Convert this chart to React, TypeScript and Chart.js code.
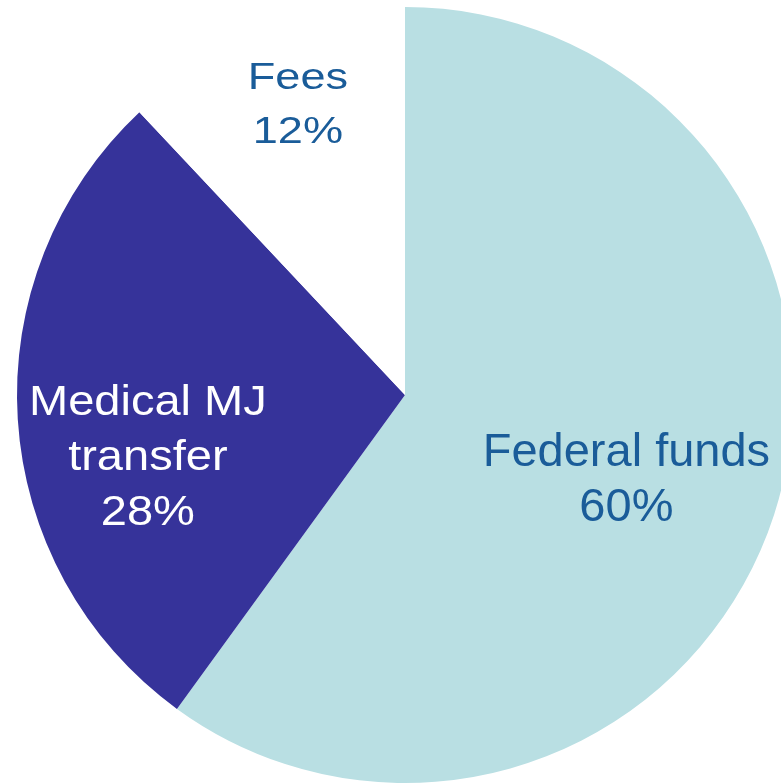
import React, { useEffect, useRef } from "react";
import { Chart, registerables } from "chart.js";

Chart.register(...registerables);

const categories = ["Federal funds", "Medical MJ transfer", "Fees"];
const shares = [60, 28, 12];
const labelLines = [["Federal funds", "60%"], ["Medical MJ", "transfer", "28%"], ["Fees", "12%"]];
const sliceColors = ["#B9DFE3", "#36339A", "#FFFFFF"];
const textColors = ["#1A5C99", "#FFFFFF", "#1A5C99"];

// label layout: fraction of radius along mid-angle, pixel offsets, font size, horizontal scale, line spacing
const labelLayout = [
  { frac: 0.6, dx: 0, dy: 10, size: 47, sx: 1, lh: 55 },
  { frac: 0.664, dx: 0, dy: 44, size: 42, sx: 1.12, lh: 55 },
  { frac: 0.75, dx: 0, dy: -22, size: 37, sx: 1.22, lh: 54 },
];

const labelPlugin = {
  id: "sliceLabels",
  afterDatasetsDraw(chart: any) {
    const ctx = chart.ctx;
    const meta = chart.getDatasetMeta(0);
    meta.data.forEach((arc: any, i: number) => {
      const p = arc.getProps(["x", "y", "startAngle", "endAngle", "outerRadius"], true);
      const mid = (p.startAngle + p.endAngle) / 2;
      const L = labelLayout[i];
      const r = p.outerRadius * L.frac;
      const cx = p.x + Math.cos(mid) * r + L.dx;
      const cy = p.y + Math.sin(mid) * r + L.dy;
      const lines = labelLines[i];
      const cap = 0.716 * L.size;
      const H = (lines.length - 1) * L.lh + cap;
      const firstBase = cy - H / 2 + cap;
      ctx.save();
      ctx.fillStyle = textColors[i];
      ctx.font = `${L.size}px "Liberation Sans", Arial, sans-serif`;
      ctx.textAlign = "center";
      ctx.textBaseline = "alphabetic";
      lines.forEach((t: string, j: number) => {
        ctx.save();
        ctx.translate(cx, firstBase + j * L.lh);
        ctx.scale(L.sx, 1);
        ctx.fillText(t, 0, 0);
        ctx.restore();
      });
      ctx.restore();
    });
  },
};

export default function App() {
  const ref = useRef<HTMLCanvasElement | null>(null);
  useEffect(() => {
    if (!ref.current) return;
    const chart = new Chart(ref.current, {
      type: "pie",
      data: {
        labels: categories,
        datasets: [
          {
            data: shares,
            backgroundColor: sliceColors,
            borderWidth: 0,
          },
        ],
      },
      options: {
        animation: false,
        responsive: false,
        devicePixelRatio: 1,
        layout: { padding: { left: 17, right: 17, top: 7, bottom: 7 } },
        plugins: { legend: { display: false }, tooltip: { enabled: false } },
      },
      plugins: [labelPlugin],
    });
    return () => chart.destroy();
  }, []);
  return (
    <div
      style={{
        position: "fixed",
        left: 0,
        top: 0,
        width: 781,
        height: 784,
        overflow: "hidden",
        background: "#FFFFFF",
      }}
    >
      <canvas ref={ref} width={810} height={790} style={{ display: "block" }} />
    </div>
  );
}
